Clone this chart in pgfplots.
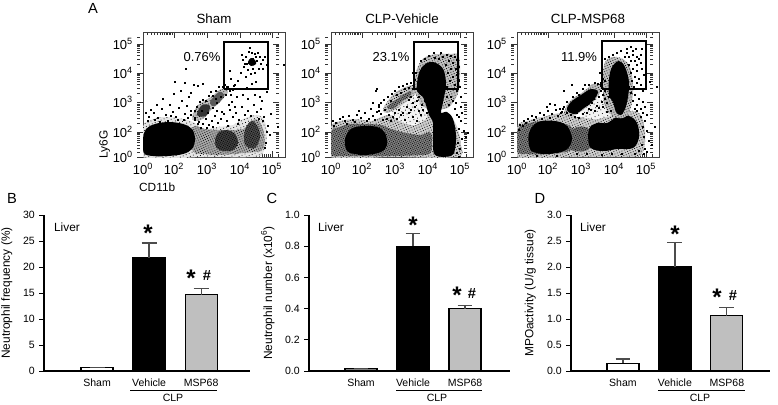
\documentclass[border=0pt]{standalone}
\usepackage{pgfplots}
\pgfplotsset{compat=1.18}
\usetikzlibrary{patterns.meta}
\usepackage{fontspec}
\setmainfont{Liberation Sans}
\newcommand\fa{\fontsize{9.75}{11}\selectfont}
\newcommand\fb{\fontsize{7.9}{9}\selectfont}
\newcommand\fc{\fontsize{8.9}{10}\selectfont}
\newcommand\fl{\fontsize{11}{12}\selectfont}
\newcommand\fs{\fontsize{18}{18}\selectfont\bfseries}
\newcommand\fh{\fontsize{11}{11}\selectfont\bfseries}
\newcommand\dec[1]{10\textsuperscript{#1}}
\pgfplotsset{
 flow/.style={
  scale only axis, width=106.5pt, height=93.75pt,
  xmin=0, xmax=142, ymin=0, ymax=125, clip=true,
  axis line style={black!75, line width=0.7pt},
  axis on top=false,
  tick align=inside, tick style={black!80, line width=0.5pt},
  major tick length=4.5pt, minor tick length=2.2pt,
  xtick={0,31,64,97,129}, ytick={0,25,55,84,113},
  xticklabels={\dec{0},\dec{2},\dec{3},\dec{4},\dec{5}},
  yticklabels={\dec{0},\dec{2},\dec{3},\dec{4},\dec{5}},
  minor xtick={4,8,11,14,17,19,21,23,24.5,26,27.5,29,41,46,50,53,55,57,59,61,74,79,83,86,88,90,92,94,107,112,116,119,121,123,125,127,135},
  minor ytick={5,9,12,15,17,19,21,22.5,23.5,33.7,38.8,42.5,45.3,47.6,49.5,51.2,52.7,63.7,68.8,72.5,75.3,77.6,79.5,81.2,82.7,92.7,97.8,101.5,104.3,106.6,108.5,110.2,111.7,120},
  y tick style={xshift=-4.5pt},
  tick label style={font=\fa},
  xticklabel style={yshift=-1pt},
  yticklabel style={xshift=-4pt},
  title style={font=\fa, yshift=-1pt},
  every axis title/.style={at={(0.5,1)}, anchor=south, yshift=3pt},
 },
 blob/.style={fill=#1, draw=none, smooth cycle, tension=0.6, forget plot},
 sp/.style 2 args={fill=black!#2, draw=none, smooth cycle, tension=0.6, forget plot, postaction={pattern={Dots[distance=#1pt, radius=0.4pt, angle=23]}, pattern color=black}},
 dots/.style={only marks, mark=square*, mark size=0.24pt, black, mark options={line width=0pt, fill=black, draw=black}, forget plot},
 gate/.style={black, line width=0.9pt, no marks, forget plot},
 barax/.style={
  scale only axis, width=#1*0.75pt, height=117pt,
  axis x line=bottom, axis y line=left, axis line style={-, black, line width=0.8pt},
  ybar, bar width=24pt, bar shift=0pt, ymin=0,
  xtick={0,1,2}, xticklabels={Sham,Vehicle,MSP68},
  tick style={black, line width=0.7pt}, major tick length=3.4pt,
  x tick style={draw=none},
  tick align=outside,
  tick label style={font=\fb},
  /pgf/number format/assume math mode=true,
  xticklabel style={yshift=1pt},
  ylabel style={font=\fc},
  clip=false,
 },
 bw/.style={fill=white, draw=black, line width=0.9pt, error bars/y dir=plus, error bars/y explicit,
   error bars/error bar style={black!70, line width=0.9pt}, error bars/error mark options={rotate=90, mark size=5.6pt, line width=0.9pt, black!70}},
 bk/.style={bw, fill=black},
 bg/.style={bw, fill=black!25},
}
\begin{document}
\begin{tikzpicture}[x=0.75pt,y=-0.75pt]
\path[use as bounding box] (0,0) rectangle (778,404);
\coordinate (pa) at (143,157);
\coordinate (pb) at (331,157);
\coordinate (pc) at (517,157);
\coordinate (qb) at (44,371);
\coordinate (qc) at (309,371);
\coordinate (qd) at (571,371);

% ---------- Panel A: Sham
\begin{axis}[flow, at={(pa)}, anchor=south west, title={Sham},
  ylabel={\fc Ly6G}, xlabel={\fc CD11b},
  ylabel style={at={(axis description cs:-0.27,0.10)}, anchor=center},
  xlabel style={at={(axis description cs:0.10,-0.24)}, anchor=center}]
\addplot[sp={2.4}{10}] coordinates {(0,0)(0,30)(8,37)(20,40)(40,38)(52,34)(60,28)(75,30)(90,32)(100,38)(115,42)(122,35)(124,20)(120,4)(110,0)(60,0)};
\addplot[sp={1.7}{35}] coordinates {(50,6)(50,30)(62,28)(75,27)(100,28)(112,38)(120,28)(120,8)(100,4)(75,2)(62,3)};
\addplot[blob=black] coordinates {(1,4)(0,18)(3,28)(12,33)(26,35)(40,33)(49,28)(52,18)(49,8)(40,3)(25,1)(10,1)};
\addplot[sp={1.3}{75}] coordinates {(72,16)(75,24)(84,27)(92,23)(95,14)(90,7)(80,6)(74,9)};
\addplot[sp={1.3}{70}] coordinates {(101,20)(103,30)(109,36)(115,30)(117,20)(113,10)(106,9)(102,13)};
\addplot[sp={2.0}{25}] coordinates {(49,40)(55,52)(68,60)(78,68)(85,66)(78,56)(68,47)(60,38)(52,36)};
\addplot[blob=black!80] coordinates {(54,42)(59,52)(67,51)(63,41)};
\addplot[blob=black!65] coordinates {(67,55)(76,65)(81,61)(72,51)};
\addplot[blob=black] coordinates {(105,95)(108,99)(112,97)(113,93)(108,91)};
\addplot[dots] coordinates {(6,40)(11,44)(15,39)(19,48)(23,42)(27,52)(30,45)(33,40)(36,49)(39,56)(42,43)(44,51)(46,60)(48,46)(14,52)(8,47)(20,58)(31,63)(25,36)(35,37)(3,44)(17,35)(41,37)(45,39)(38,66)(28,41)(12,37)(5,36)(52,37)(55,33)
(56,35)(60,33)(63,38)(66,32)(69,36)(72,41)(75,34)(78,38)(81,43)(84,36)(87,47)(90,40)(93,44)(96,37)(99,50)(102,42)(105,46)(108,41)(111,52)(114,45)(118,48)(121,40)(70,30)(85,31)(95,33)(125,31)(124,25)(123,14)(127,22)(122,9)(120,36)(89,55)(94,60)(105,58)(112,62)(119,56)(100,62)(79,45)(74,46)(92,50)(86,52)(116,38)(64,29)(58,29)
(48,42)(52,46)(54,50)(57,55)(60,57)(63,56)(66,61)(70,61)(73,66)(76,70)(80,70)(84,70)(87,66)(83,62)(88,62)(73,58)(78,60)(65,44)(70,49)(74,54)(90,67)(82,72)(68,65)(59,46)(52,39)
(109,104)(112,103)(106,105)(103,100)(100,97)(117,100)(120,97)(115,104)(118,93)(110,88)(105,87)(101,90)(116,88)(112,84)(108,83)(98,84)(95,76)(88,78)(85,70)(91,71)(87,86)(103,80)(102,93)(99,102)(114,96)(111,94)(107,96)(106,94)(110,98)(113,100)(104,93)(120,88)(122,100)(124,92)(109,73)(113,75)(104,69)(96,68)(92,72)(107,109)
(43,88)(42,74)(51,72)(55,71)(48,64)(141,92)(128,43)(120,68)(124,65)(117,60)(135,30)(32,75)(60,73)};
\addplot[gate] coordinates {(81,68)(125,68)(125,115)(81,115)(81,68)};
\end{axis}

% ---------- Panel A: CLP-Vehicle
\begin{axis}[flow, at={(pb)}, anchor=south west, title={CLP-Vehicle}]
\addplot[sp={1.9}{20}] coordinates {(0,0)(0,30)(10,36)(25,38)(40,36)(50,40)(60,42)(70,35)(85,32)(93,40)(104,45)(118,42)(126,30)(130,12)(125,0)(60,0)};
\addplot[sp={3.0}{5}] coordinates {(60,46)(70,52)(84,60)(92,52)(96,40)(85,33)(70,36)};
\addplot[sp={1.4}{50}] coordinates {(0,3)(0,25)(8,30)(20,33)(35,33)(50,32)(60,28)(75,24)(90,22)(100,24)(100,5)(90,2)(60,1)(30,1)(10,1)};
\addplot[blob=black] coordinates {(16,6)(14,18)(20,28)(32,31)(46,30)(54,24)(56,12)(50,5)(35,2)(24,3)};
\addplot[sp={1.9}{25}] coordinates {(85,62)(84,80)(90,96)(100,102)(118,103)(128,100)(128,68)(120,52)(112,48)(96,48)};
\addplot[blob=black] coordinates {(86,66)(87,80)(91,90)(99,95)(107,93)(113,86)(115,72)(113,60)(111,50)(110,44)(116,45)(122,38)(125,22)(124,8)(120,1)(104,2)(102,18)(102,34)(98,42)(95,52)(92,60)};
\addplot[sp={1.8}{22}] coordinates {(52,48)(60,60)(70,68)(82,72)(85,64)(75,55)(65,48)(56,44)};
\addplot[sp={1.3}{50}] coordinates {(56,50)(62,55)(72,62)(79,66)(80,62)(70,55)(62,48)};
\addplot[dots] coordinates {(5,34)(9,38)(14,36)(18,41)(22,37)(26,42)(30,39)(34,44)(38,38)(42,41)(46,45)(50,43)(54,47)(58,42)(62,40)(3,31)(12,40)(28,46)(40,48)(48,50)(36,36)(24,35)(16,33)(44,37)(52,37)(56,38)(60,36)(66,38)(70,42)(74,37)(78,44)(82,40)(86,36)(90,42)(88,46)(84,50)(80,47)(76,50)(72,44)(68,47)(92,47)(64,44)(96,44)(91,52)(86,56)(94,56)(82,54)(78,57)
(48,46)(50,54)(53,57)(57,60)(61,63)(64,66)(68,70)(72,71)(76,73)(80,74)(84,77)(82,68)(87,70)(78,69)(74,68)(66,62)(70,64)(60,56)(88,60)(90,66)(80,60)(85,84)(82,84)
(116,102)(120,101)(124,100)(112,100)(108,98)(104,99)(118,96)(122,94)(126,97)(128,90)(125,88)(120,88)(115,92)(117,84)(122,80)(126,82)(119,76)(124,72)(128,76)(116,70)(120,68)(126,66)(129,70)(116,60)(120,60)(122,56)(118,52)(125,54)(130,60)(98,101)(94,98)(110,104)(103,104)(90,96)
(126,42)(130,36)(128,28)(131,18)(127,14)(133,26)(129,8)(135,20)(124,48)(130,50)(131,44)(128,0)(126,4)(137,24)(128,40)
(45,66)(46,68)(48,52)(42,54)(2,36)};
\addplot[gate] coordinates {(83,68)(127,68)(127,115)(83,115)(83,68)};
\end{axis}

% ---------- Panel A: CLP-MSP68
\begin{axis}[flow, at={(pc)}, anchor=south west, title={CLP-MSP68}]
\addplot[sp={1.9}{20}] coordinates {(0,0)(0,30)(10,36)(25,40)(45,44)(60,40)(75,42)(90,46)(105,46)(122,44)(128,25)(125,3)(110,0)(60,0)};
\addplot[sp={3.0}{5}] coordinates {(66,46)(80,58)(92,50)(94,42)(80,38)(66,40)};
\addplot[sp={1.4}{50}] coordinates {(0,6)(1,28)(12,34)(30,36)(48,33)(56,28)(60,14)(52,6)(30,3)(10,3)};
\addplot[sp={1.4}{55}] coordinates {(54,8)(56,28)(72,28)(72,8)};
\addplot[blob=black] coordinates {(13,8)(12,24)(21,35)(38,36)(50,31)(55,18)(49,7)(32,3)(20,4)};
\addplot[blob=black] coordinates {(72,12)(72,28)(80,34)(90,34)(100,40)(112,41)(120,34)(122,20)(116,9)(100,8)(88,6)(78,7)};
\addplot[sp={1.8}{25}] coordinates {(88,50)(86,72)(88,95)(100,100)(112,92)(116,72)(114,50)(108,40)(98,40)};
\addplot[blob=black] coordinates {(92,62)(92,78)(95,90)(102,96)(108,90)(112,75)(111,60)(108,48)(104,42)(99,45)(96,55)};
\addplot[sp={1.8}{25}] coordinates {(47,43)(53,56)(66,65)(76,73)(85,71)(79,58)(66,47)(56,41)};
\addplot[blob=black] coordinates {(50,47)(54,55)(64,62)(74,68)(81,65)(75,55)(67,49)(58,43)};
\addplot[dots] coordinates {(3,32)(7,36)(11,38)(15,41)(19,40)(23,44)(27,42)(31,46)(35,43)(39,47)(43,48)(47,50)(50,44)(54,42)(58,40)(62,39)(66,43)(70,44)(74,47)(78,46)(82,49)(86,50)(90,45)(94,46)(25,38)(33,39)(41,41)(17,37)(9,34)(45,45)(56,46)(52,50)(60,44)(38,52)(30,50)(6,31)(2,27)
(70,52)(75,54)(80,51)(85,55)(82,60)(88,58)(77,58)(72,48)(86,62)(90,54)(92,60)(88,66)(84,66)(44,44)(46,48)(50,55)(56,60)(60,64)(66,68)(72,72)(78,74)(84,74)(88,76)(81,73)(62,62)(68,72)
(108,100)(112,100)(116,102)(120,100)(114,96)(118,96)(122,98)(110,104)(116,106)(124,102)(120,92)(124,94)(112,92)(116,88)(120,86)(125,88)(114,84)(118,80)(122,78)(127,82)(115,76)(120,74)(124,72)(112,70)(117,70)(122,68)(126,66)(114,64)(118,62)(122,58)(116,56)(120,52)(126,55)(104,106)(100,104)(96,102)(92,100)(88,98)(85,90)(83,84)(86,78)(84,72)(119,108)(110,108)(114,110)(125,108)
(124,40)(128,36)(126,30)(130,26)(127,20)(132,16)(125,12)(128,8)(122,6)(135,12)(126,44)(130,42)(124,48)(128,50)(120,46)(140,70)(133,75)(118,48)(138,30)(130,5)(127,3)(118,3)(105,3)(95,3)(70,3)(85,2)(20,1)(40,1)(60,3)
(33,53)(55,72)(47,66)};
\addplot[gate] coordinates {(85,68)(129,68)(129,116)(85,116)(85,68)};
\end{axis}

% ---------- Panel B
\begin{axis}[barax=206, at={(qb)}, anchor=south west, xmin=-1.02, xmax=2.94, ymax=30,
  ytick={0,5,10,15,20,25,30}, ylabel={Neutrophil frequency (\%)},
  ylabel style={at={(axis description cs:-0.18,0.5)}, anchor=center}]
\addplot[bw] coordinates {(0,0.6) +- (0,0.15)};
\addplot[bk] coordinates {(1,21.8) +- (0,2.8)};
\addplot[bg] coordinates {(2,14.7) +- (0,1.2)};
\end{axis}

% ---------- Panel C
\begin{axis}[barax=201, at={(qc)}, anchor=south west, xmin=-1, xmax=2.865, ymax=1,
  ytick={0,0.2,0.4,0.6,0.8,1}, yticklabel style={/pgf/number format/.cd, fixed, fixed zerofill, precision=1},
  ylabel={Neutrophil number (x10\textsuperscript{6})},
  ylabel style={at={(axis description cs:-0.205,0.5)}, anchor=center}]
\addplot[bw, fill=black!50] coordinates {(0,0.015) +- (0,0.003)};
\addplot[bk] coordinates {(1,0.80) +- (0,0.08)};
\addplot[bg] coordinates {(2,0.40) +- (0,0.02)};
\end{axis}

% ---------- Panel D
\begin{axis}[barax=199, at={(qd)}, anchor=south west, xmin=-1, xmax=2.83, ymax=3,
  ytick={0,0.5,1,1.5,2,2.5,3}, yticklabel style={/pgf/number format/.cd, fixed, fixed zerofill, precision=1},
  ylabel={MPOactivity (U/g tissue)},
  ylabel style={at={(axis description cs:-0.205,0.5)}, anchor=center}]
\addplot[bw] coordinates {(0,0.15) +- (0,0.08)};
\addplot[bk] coordinates {(1,2.0) +- (0,0.47)};
\addplot[bg] coordinates {(2,1.06) +- (0,0.16)};
\end{axis}

% ---------- Annotations
\node[font=\fl] at (93,8) {A};
\node[font=\fl] at (12,198) {B};
\node[font=\fl] at (272,198) {C};
\node[font=\fl] at (540,198) {D};
\node[font=\fa] at (202,57) {0.76\%};
\node[font=\fa] at (391,57) {23.1\%};
\node[font=\fa] at (579,57) {11.9\%};
\node[font=\fc] at (67,227) {Liver};
\node[font=\fc] at (331,227) {Liver};
\node[font=\fc] at (593,227) {Liver};
\draw[black, line width=0.7pt] (130,390) -- (217,390);
\draw[black, line width=0.7pt] (396,390) -- (482,390);
\draw[black, line width=0.7pt] (658,390) -- (745,390);
\node[font=\fb] at (173,398) {CLP};
\node[font=\fb] at (437,398) {CLP};
\node[font=\fb] at (700,398) {CLP};
\foreach \x/\y in {148/231,191/276,413/223,457/293,675/232,717/295}
  \node[font=\fs, inner sep=0pt, yshift=-1.8pt] at (\x,\y) {*};
\foreach \x/\y in {207/275,472/293,733/295}
  \node[font=\fh, inner sep=0pt] at (\x,\y) {\#};
\end{tikzpicture}
\end{document}
